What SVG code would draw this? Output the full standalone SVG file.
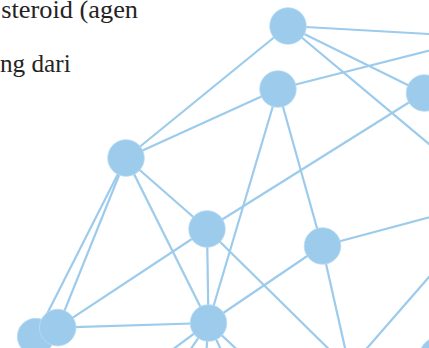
<svg xmlns="http://www.w3.org/2000/svg" width="429" height="348" viewBox="0 0 429 348">
  <style>
    .txt { font-family: "Liberation Serif", "Times New Roman", serif; font-size: 26px; fill: #262324; }
    .edge { stroke: #9ccbec; stroke-width: 2.2; fill: none; stroke-linecap: round; }
    .node { fill: #9ccbec; stroke: #b9dcf3; stroke-width: 0.8; }
  </style>
  <rect width="429" height="348" fill="#ffffff"/>

  <!-- running text fragments -->
  <text class="txt" x="1.3" y="17.5" textLength="136.7" lengthAdjust="spacingAndGlyphs">steroid (agen</text>
  <text class="txt" x="0" y="71.5" textLength="70.7" lengthAdjust="spacingAndGlyphs">ng dari</text>

  <!-- connectors -->
  <g id="connectors">
    <line class="edge" x1="288" y1="26" x2="126" y2="158"/>
    <line class="edge" x1="288" y1="26" x2="424" y2="93"/>
    <line class="edge" x1="288" y1="26" x2="470" y2="36.3"/>
    <line class="edge" x1="288" y1="26" x2="470" y2="178.3"/>
    <line class="edge" x1="278" y1="89" x2="126" y2="158"/>
    <line class="edge" x1="278" y1="89" x2="208.5" y2="323"/>
    <line class="edge" x1="278" y1="89" x2="322" y2="246"/>
    <line class="edge" x1="278" y1="89" x2="470" y2="40.3"/>
    <line class="edge" x1="424" y1="93" x2="207" y2="229"/>
    <line class="edge" x1="126" y1="158" x2="207" y2="229"/>
    <line class="edge" x1="126" y1="158" x2="208.5" y2="323"/>
    <line class="edge" x1="126" y1="158" x2="35.6" y2="336.6"/>
    <line class="edge" x1="126" y1="158" x2="57.7" y2="327.6"/>
    <line class="edge" x1="207" y1="229" x2="57.7" y2="327.6"/>
    <line class="edge" x1="207" y1="229" x2="208.5" y2="323"/>
    <line class="edge" x1="207" y1="229" x2="350" y2="370"/>
    <line class="edge" x1="322" y1="246" x2="208.5" y2="323"/>
    <line class="edge" x1="322" y1="246" x2="350" y2="370"/>
    <line class="edge" x1="322" y1="246" x2="470" y2="206.5"/>
    <line class="edge" x1="470" y1="230" x2="348" y2="370"/>
    <line class="edge" x1="208.5" y1="323" x2="57.7" y2="327.6"/>
    <line class="edge" x1="208.5" y1="323" x2="144.8" y2="370"/>
    <line class="edge" x1="208.5" y1="323" x2="176.5" y2="370"/>
    <line class="edge" x1="208.5" y1="323" x2="205" y2="370"/>
    <line class="edge" x1="208.5" y1="323" x2="230.4" y2="370"/>
    <line class="edge" x1="208.5" y1="323" x2="259" y2="370"/>
  </g>

  <!-- nodes -->
  <g id="node-a"><circle class="node" cx="288" cy="26" r="18.3"/></g>
  <g id="node-b"><circle class="node" cx="278" cy="89" r="18.3"/></g>
  <g id="node-c"><circle class="node" cx="424.5" cy="93" r="18.3"/></g>
  <g id="node-d"><circle class="node" cx="126" cy="158" r="18.3"/></g>
  <g id="node-e"><circle class="node" cx="207" cy="229" r="18.3"/></g>
  <g id="node-f"><circle class="node" cx="322.5" cy="246" r="18.3"/></g>
  <g id="node-g"><circle class="node" cx="208.5" cy="323" r="18.3"/></g>
  <g id="node-h1"><circle class="node" cx="35.6" cy="336.6" r="18.3"/></g>
  <g id="node-h2"><circle class="node" cx="57.7" cy="327.6" r="18.3"/></g>
  <g id="node-i"><circle class="node" cx="438" cy="356" r="18.5"/></g>
</svg>
